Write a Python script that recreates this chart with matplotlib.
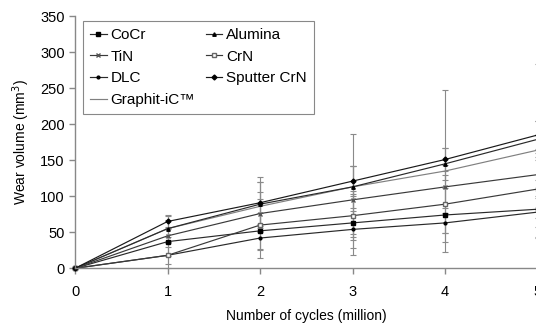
import numpy as np
import matplotlib.pyplot as plt

plt.rcParams['font.family'] = ['Liberation Sans', 'DejaVu Sans']

cycles = [0, 1, 2, 3, 4, 5]

cocr = [0, 37, 52, 63, 74, 82]
alumina = [0, 55, 89, 113, 145, 179]
tin = [0, 45, 76, 95, 113, 130]
crn = [0, 18, 60, 73, 89, 110]
dlc = [0, 18, 42, 54, 63, 78]
sputter_crn = [0, 65, 91, 121, 151, 185]
graphit = [0, 55, 86, 113, 135, 164]

# standard deviations
cocr_err = [0, 20, 25, 44, 37, 40]
alumina_err = [0, 12, 38, 29, 22, 25]
tin_err = [0, 10, 20, 47, 30, 30]
crn_err = [0, 18, 46, 30, 40, 40]
dlc_err = [0, 12, 17, 26, 14, 20]
sputter_crn_err = [0, 9, 29, 21, 16, 20]
graphit_err = [0, 18, 34, 74, 113, 120]

fig = plt.figure(figsize=(5.36, 3.31), dpi=100)
ax = fig.add_axes([0.140, 0.1894, 0.863, 0.762])

series = [
    ('CoCr', cocr, cocr_err, dict(marker='s', ms=3.5, mfc='black', mec='black', color='#2a2a2a')),
    ('TiN', tin, tin_err, dict(marker='x', ms=2.5, mec='#555555', color='#3a3a3a')),
    ('DLC', dlc, dlc_err, dict(marker='o', ms=2, mfc='black', mec='black', color='#2a2a2a')),
    ('Graphit-iC\u2122', graphit, graphit_err, dict(marker=None, color='#808080')),
    ('Alumina', alumina, alumina_err, dict(marker='^', ms=2.5, mfc='black', mec='black', color='#2a2a2a')),
    ('CrN', crn, crn_err, dict(marker='s', ms=2.8, mfc='white', mec='#666666', color='#3a3a3a')),
    ('Sputter CrN', sputter_crn, sputter_crn_err, dict(marker='D', ms=2.5, mfc='black', mec='black', color='#1a1a1a')),
]

for name, vals, err, style in series:
    ax.errorbar(cycles, vals, yerr=err, fmt='none',
                ecolor='#8a8a8a', elinewidth=0.8, capsize=2.2, capthick=0.8,
                clip_on=False)
for name, vals, err, style in series:
    ax.plot(cycles, vals, label=name, lw=0.85, clip_on=False, **style)

ax.set_xlim(0, 5)
ax.set_ylim(0, 350)
ax.set_xticks(range(6))
ax.set_yticks(range(0, 351, 50))

for side in ['top', 'right']:
    ax.spines[side].set_visible(False)
for side in ['left', 'bottom']:
    ax.spines[side].set_color('#888888')
    ax.spines[side].set_linewidth(1.0)
ax.tick_params(colors='#888888', labelcolor='black', labelsize=10.5, length=4, width=1.0)
ax.tick_params(axis='x', pad=8)

ax.set_xlabel('Number of cycles (million)', fontsize=10, labelpad=7)
ax.set_ylabel('Wear volume (mm$^3$)', fontsize=10, labelpad=6)

leg = ax.legend(ncol=2, loc='upper left', bbox_to_anchor=(0.017, 0.98), fontsize=11,
                frameon=True, fancybox=False, edgecolor='#888888', framealpha=1,
                handlelength=1.1, handletextpad=0.25, columnspacing=0.7,
                labelspacing=0.5, borderpad=0.45, borderaxespad=0)
leg.get_frame().set_linewidth(0.8)

fig.savefig('out.png', dpi=100)
